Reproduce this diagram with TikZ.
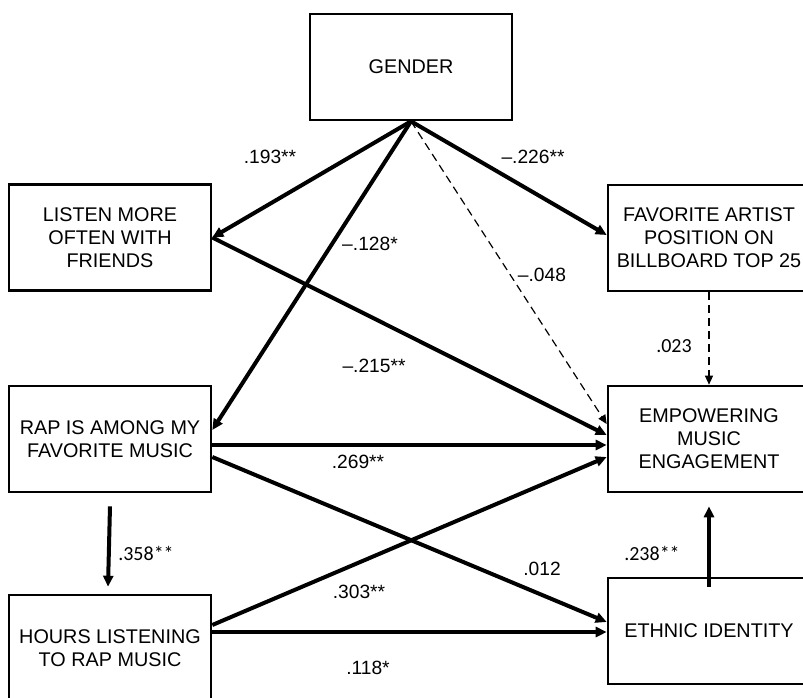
\documentclass[tikz,border=0pt]{standalone}
\usepackage{fontspec}
\setmainfont{Liberation Sans}
\newfontfamily\calibri{Carlito}
\usetikzlibrary{arrows.meta}

\begin{document}
\begin{tikzpicture}[x=0.5pt, y=-0.5pt,
		box/.style={draw, line width=1.3pt, minimum width=101pt, minimum height=53pt,
			align=center, font=\fontsize{9.9}{11.5}\selectfont},
		strong/.style={line width=2pt, -{Triangle[length=5.5pt, width=5pt]}},
		weak/.style={line width=0.6pt, dash pattern=on 4pt off 2.5pt, -{Triangle[length=4.5pt, width=4pt]}},
		coef/.style={font=\fontsize{9.6}{11}\selectfont},
		coefc/.style={font=\calibri\fontsize{10}{12}\selectfont}]
		\useasboundingbox (0, 0) rectangle (803, 697);
		\clip (0, 0) rectangle (803, 697); % picture is cut at the edges
		
		% Variables
		\node[box] (gender) at (411, 67) {GENDER};
		\node[box] (friends) at (110, 237.5) {LISTEN MORE\\OFTEN WITH\\FRIENDS};
		\node[box] (rap) at (110, 439) {RAP IS AMONG MY\\FAVORITE MUSIC};
		\node[box] (hours) at (110, 648) {HOURS LISTENING\\TO RAP MUSIC};
		\node[box] (artist) at (709, 238) {FAVORITE ARTIST\\POSITION ON\\BILLBOARD TOP 25};
		\node[box] (empower) at (709, 439) {EMPOWERING\\MUSIC\\ENGAGEMENT};
		\node[box] (ethnic) at (709, 631) {ETHNIC IDENTITY};
		
		% Paths from gender
		\draw[strong] (gender.south) -- (friends.east);
		\draw[strong] (gender.south) -- ([yshift=4.5pt]rap.east);
		\draw[strong] (gender.south) -- ([yshift=1.5pt]artist.west);
		\draw[weak] (gender.south) -- ([yshift=7.5pt]empower.west);
		
		% Paths to the outcomes
		\draw[strong] (friends.east) -- ([yshift=2pt]empower.west);
		\draw[weak] (artist.south) -- (empower.north);
		\draw[strong] ([yshift=-3pt]rap.east) -- ([yshift=-3pt]empower.west);
		\draw[strong] ([yshift=-9pt]rap.east) -- ([yshift=4.5pt]ethnic.west);
		\draw[strong] ([yshift=11.5pt]hours.east) -- ([yshift=-9pt]empower.west);
		\draw[strong] ([yshift=8pt]hours.east) -- ([yshift=-0.5pt]ethnic.west);
		\draw[strong] ([yshift=-6.5pt]rap.south) -- ([xshift=-1pt, yshift=3.5pt]hours.north);
		\draw[strong] ([yshift=-5pt]ethnic.north) -- ([yshift=-6.5pt]empower.south);
		
		% Coefficients
		\node[coef] (c193) at (270, 157) {.193**};
		\node[coef] (c226) at (533, 157) {--.226**};
		\node[coef] (c128) at (370, 244) {--.128*};
		\node[coef] (c048) at (542, 275) {--.048};
		\node[coef] (c215) at (374, 366) {--.215**};
		\node[coefc] (c023) at (674, 346) {.023};
		\node[coef] (c269) at (358, 462) {.269**};
		\node[coefc] (c358) at (146, 553) {.358**};
		\node[coef] (c303) at (359, 592) {.303**};
		\node[coef] (c118) at (368, 668) {.118*};
		\node[coef] (c012) at (542, 569) {.012};
		\node[coefc] (c238) at (652, 553) {.238**};
	\end{tikzpicture}
\end{document}
